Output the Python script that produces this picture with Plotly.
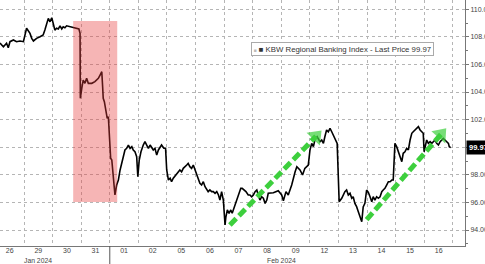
import plotly.graph_objects as go

# trading-session index (day k spans [k, k+1]) and price
t = [0.16,0.28,0.39,0.45,0.51,0.63,0.74,0.86,0.98,1.03,1.09,1.21,1.27,1.33,1.44,1.56,1.67,1.73,1.79,1.85,1.91,1.97,
     2.02,2.08,2.14,2.20,2.26,2.32,2.37,2.43,2.49,2.61,2.72,2.84,2.92,2.96,2.97,
     3.02,3.07,3.13,3.19,3.25,3.37,3.48,3.60,3.66,3.72,3.75,3.77,3.81,3.87,3.91,3.95,3.98,
     4.03,4.07,4.12,4.18,4.24,4.30,4.36,4.42,4.47,4.53,4.59,4.65,4.71,4.77,4.82,4.88,4.94,4.98,
     5.03,5.09,5.17,5.23,5.29,5.35,5.41,5.52,5.58,5.64,5.70,5.81,5.89,5.95,5.99,
     6.05,6.11,6.16,6.22,6.34,6.45,6.51,6.57,6.69,6.74,6.80,6.86,6.92,6.98,
     7.04,7.09,7.15,7.21,7.27,7.33,7.39,7.44,7.50,7.56,7.62,7.68,7.74,7.80,7.85,7.91,7.97,
     8.03,8.06,8.11,8.17,8.23,8.28,8.34,8.40,8.46,8.52,8.58,8.63,8.69,8.76,8.84,8.90,8.96,
     9.02,9.08,9.14,9.19,9.25,9.31,9.37,9.43,9.49,9.54,9.60,9.72,9.89,
     10.01,10.07,10.16,10.24,10.36,10.48,10.54,10.65,10.74,10.82,10.94,
     11.00,11.06,11.12,11.17,11.25,11.35,11.41,11.47,11.52,11.58,11.64,11.70,11.76,11.82,11.91,11.95,
     12.02,12.11,12.22,12.28,12.34,12.40,12.46,12.51,12.57,12.63,12.69,12.75,12.81,12.86,12.92,12.98,
     13.04,13.10,13.16,13.21,13.27,13.33,13.39,13.45,13.51,13.56,13.62,13.68,13.74,13.80,13.86,13.91,13.97,
     14.03,14.09,14.15,14.21,14.26,14.32,14.38,14.44,14.50,14.56,14.61,14.67,14.73,14.79,14.85,14.91,14.96,14.99,
     15.05,15.08,15.14,15.20,15.26,15.31,15.37,15.43,15.49,15.55,15.60,15.66,15.72,15.78,15.84,15.87,15.92]
price = [107.55,107.28,107.53,107.21,107.65,107.77,107.65,107.70,107.65,108.13,108.62,108.25,107.89,107.70,107.89,108.01,108.13,108.49,108.98,109.34,109.09,109.38,
         108.98,108.49,108.62,108.57,108.80,108.57,108.73,108.66,108.80,108.73,108.69,108.62,108.57,108.25,103.54,
         104.27,104.87,104.63,104.99,104.63,104.63,104.75,104.99,105.23,105.47,104.38,103.54,103.30,102.33,102.09,102.21,100.76,
         99.20,99.07,97.62,96.54,97.26,97.62,98.35,98.95,99.31,99.80,99.92,100.16,99.92,100.04,99.80,99.67,99.31,97.86,
         99.07,99.67,100.16,100.40,100.16,99.92,100.16,99.80,99.92,99.43,99.80,100.16,99.92,99.92,98.35,
         97.62,97.75,97.50,97.75,98.11,98.35,98.22,98.47,98.71,98.83,98.59,98.47,98.71,98.35,
         97.99,97.75,97.38,97.26,97.50,97.14,96.90,96.78,96.90,96.78,96.78,96.66,96.78,96.54,96.17,96.78,96.17,
         94.36,94.96,95.45,95.21,95.45,95.21,95.57,96.05,96.30,96.78,97.02,97.02,96.90,96.78,96.54,96.54,96.41,
         96.54,96.78,96.90,96.54,96.17,96.41,96.30,95.93,96.17,96.66,96.66,96.70,96.85,
         96.54,96.12,96.78,96.54,97.26,98.22,98.59,98.35,97.99,98.47,98.71,
         99.80,100.28,100.04,100.52,100.76,100.40,100.52,100.28,100.76,101.25,101.12,101.37,101.12,100.88,100.40,100.28,
         96.05,96.30,96.78,96.90,96.54,96.66,96.30,96.41,95.93,95.69,95.33,94.96,94.60,95.67,95.93,96.90,
         96.72,96.41,96.05,96.41,96.17,96.41,96.30,96.41,96.78,96.90,97.02,97.26,97.50,97.50,97.62,97.62,100.28,
         100.04,99.67,99.31,98.95,99.56,99.67,99.92,99.80,100.52,101.01,101.12,101.25,101.37,101.49,101.25,101.12,101.01,99.67,
         100.28,100.52,100.28,100.40,100.28,100.40,100.52,100.28,100.16,100.40,100.52,100.64,100.52,100.40,100.28,100.04,99.97]

day_labels = ["26","29","30","31","01","02","05","06","07","08","09","12","13","14","15","16"]
month_labels = ["Jan 2024", "Feb 2024"]
month_pos = [1.49, 10.0]
month_split = 4.0
y_ticks = [94, 96, 98, 100, 102, 104, 106, 108, 110]
last_price = 99.97
series_name = "KBW Regional Banking Index - Last Price 99.97"

# highlighted selloff window
hl_x = [2.72, 4.26]
hl_y = [96.03, 109.14]

# green trend arrows: (start_t, start_p, end_t, end_p)
arrows = [(8.20, 94.36, 11.21, 100.79), (12.98, 94.75, 15.58, 100.93)]

FONT = "Liberation Sans"
GREEN = "#3dcf3d"

fig = go.Figure()
fig.add_trace(go.Scatter(x=t, y=price, mode="lines", line=dict(color="black", width=1.6),
                         showlegend=False, hoverinfo="skip"))

for (x0, y0, x1, y1) in arrows:
    fig.add_trace(go.Scatter(x=[x0, x1], y=[y0, y1], mode="lines+markers",
                             line=dict(color=GREEN, width=5, dash="9px,4px"),
                             marker=dict(symbol=["circle", "triangle-up"], size=[0, 16],
                                         color=GREEN, angleref="previous", line=dict(width=0)),
                             showlegend=False, hoverinfo="skip"))

shapes = [
    dict(type="rect", xref="x", yref="y", x0=hl_x[0], x1=hl_x[1], y0=hl_y[0], y1=hl_y[1],
         fillcolor="rgba(232,60,60,0.38)", line=dict(width=0), layer="above"),
    dict(type="line", xref="x", yref="paper", x0=month_split, x1=month_split, y0=0, y1=-0.08,
         line=dict(color="#555", width=1)),
]

annotations = [
    dict(xref="paper", yref="paper", x=251/465, y=1-41.5/246, xanchor="left", yanchor="top",
         text="<span style='color:#bbb;font-size:5px'>■</span> ■ " + series_name, showarrow=False,
         font=dict(family=FONT, size=7.8, color="#333"), bgcolor="white",
         bordercolor="#aaa", borderwidth=1, borderpad=1.5, align="left"),
    dict(xref="paper", yref="y", x=1.0, y=last_price, xanchor="left", yanchor="middle",
         text="<b>%.2f</b>" % last_price, showarrow=False, font=dict(family=FONT, size=7.5, color="white"),
         bgcolor="black", borderpad=2, xshift=1),
]
for lab, pos in zip(month_labels, month_pos):
    annotations.append(dict(xref="x", yref="paper", x=pos, y=-14/246, xanchor="center", yanchor="middle",
                            text=lab, showarrow=False, borderpad=0,
                            font=dict(family=FONT, size=6.8, color="#444")))

fig.update_layout(
    width=485, height=264, margin=dict(l=0, r=20, t=0, b=18),
    paper_bgcolor="white", plot_bgcolor="white",
    font=dict(family=FONT, size=7, color="#444"),
    shapes=shapes, annotations=annotations, showlegend=False,
    xaxis=dict(range=[0.161, 16.42], tickvals=[k + 0.5 for k in range(len(day_labels))],
               ticktext=day_labels, showgrid=False, ticks="", zeroline=False, automargin=False,
               showline=True, linecolor="#777", linewidth=1, ticklabelstandoff=-2,
               minor=dict(tickvals=list(range(1, 17)), showgrid=True, gridcolor="#b5b5b5",
                          griddash="dot", gridwidth=1, ticks=""),
               tickfont=dict(family=FONT, size=7, color="#444")),
    yaxis=dict(range=[92.84, 110.67], side="right", tickvals=y_ticks, automargin=False,
               ticktext=["" if v == 100 else "%.2f" % v for v in y_ticks],
               showgrid=True, gridcolor="#b5b5b5",
               griddash="dot", gridwidth=1, zeroline=False, ticks="outside", ticklen=3,
               tickcolor="#777", showline=True, linecolor="#777", linewidth=1,
               minor=dict(dtick=1, ticks="outside", ticklen=2, tickcolor="#777", showgrid=False),
               tickfont=dict(family=FONT, size=7, color="#444")),
)

fig.write_html("out.html")
